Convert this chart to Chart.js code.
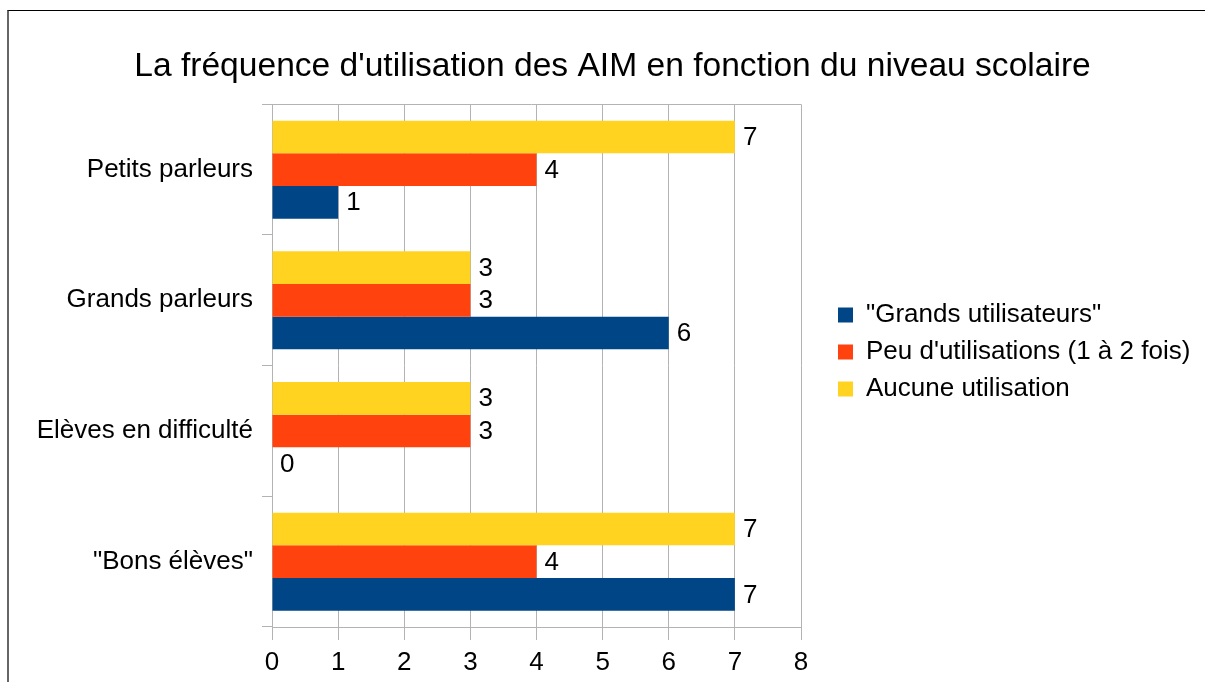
<!DOCTYPE html>
<html lang="fr">
<head>
<meta charset="utf-8">
<title>Fréquence d'utilisation des AIM</title>
<script src="https://cdn.jsdelivr.net/npm/chart.js@4.4.1/dist/chart.umd.min.js"></script>
<style>
  html, body { margin: 0; padding: 0; background: #fff; }
  #wrap { position: relative; width: 1205px; height: 682px; overflow: hidden; }
  /* outer frame of the chart object, only its left and top edges show */
  #frame { position: absolute; left: 7px; top: 10px; width: 1400px; height: 900px;
           border-left: 2px solid #666; border-top: 1px solid #000; }
  #chart { position: absolute; left: 0; top: 0; }
</style>
</head>
<body>
<div id="wrap">
  <div id="frame"></div>
  <canvas id="chart" width="1205" height="682"></canvas>
</div>
<script>
// --- data ---
const categories = ['Petits parleurs', 'Grands parleurs', 'Elèves en difficulté', '"Bons élèves"'];
const seriesNames = ['"Grands utilisateurs"', "Peu d'utilisations (1 à 2 fois)", 'Aucune utilisation'];
const grandsUtilisateurs = [1, 6, 0, 7];
const peuUtilisations = [4, 3, 3, 4];
const aucuneUtilisation = [7, 3, 3, 7];
const xTicks = [0, 1, 2, 3, 4, 5, 6, 7, 8];

const titleText = "La fréquence d'utilisation des AIM en fonction du niveau scolaire";

// --- look ---
const FONT = "'Liberation Sans', Arial, sans-serif";
const BLUE = '#004586';
const ORANGE = '#ff420e';
const YELLOW = '#ffd320';
const GRID = '#b3b3b3';
const LABEL_SIZE = 26;

// plot box edges (px)
const PLOT_LEFT = 272;
const PLOT_RIGHT = 801;
const PLOT_BOTTOM = 627;
const LEGEND_GAP = 37;    // plot right edge -> first legend square
const LEGEND_LIFT = -11;  // negative = legend sits lower than the plot centre

// value labels just right of each bar end
const valueLabels = {
    id: 'valueLabels',
    afterDatasetsDraw(chart) {
        const ctx = chart.ctx;
        ctx.save();
        ctx.font = LABEL_SIZE + 'px ' + FONT;
        ctx.fillStyle = '#000';
        ctx.textAlign = 'left';
        ctx.textBaseline = 'middle';
        chart.data.datasets.forEach((ds, i) => {
            const meta = chart.getDatasetMeta(i);
            meta.data.forEach((bar, j) => {
                ctx.fillText(String(ds.data[j]), bar.x + 8, bar.y + 1);
            });
        });
        ctx.restore();
    }
};

// thin line along the top of the plot area
const plotTop = {
    id: 'plotTop',
    afterDraw(chart) {
        const { ctx, chartArea } = chart;
        ctx.save();
        ctx.strokeStyle = GRID;
        ctx.lineWidth = 1;
        ctx.beginPath();
        ctx.moveTo(chartArea.left - 10, Math.round(chartArea.top) + 0.5);
        ctx.lineTo(chartArea.right, Math.round(chartArea.top) + 0.5);
        ctx.stroke();
        ctx.restore();
    }
};

// keep the legend box wide enough that the plot ends at PLOT_RIGHT, then nudge items
const legendPlacement = {
    id: 'legendPlacement',
    beforeLayout(chart) {
        const lg = chart.legend;
        if (!lg || lg._patched) return;
        const fit = lg.fit.bind(lg);
        lg.fit = function () {
            fit();
            this.width = chart.width - PLOT_RIGHT;
        };
        lg._patched = true;
    },
    afterLayout(chart) {
        const lg = chart.legend;
        if (!lg) return;
        const pad = lg.options.labels.padding;
        const dx = chart.chartArea.right + LEGEND_GAP - (lg.left + pad);
        lg.left += dx;
        lg.right += dx;
        lg.top -= LEGEND_LIFT;
        lg.bottom -= LEGEND_LIFT;
    }
};

Chart.defaults.font.family = FONT;
Chart.defaults.color = '#000';

const ctx = document.getElementById('chart').getContext('2d');
new Chart(ctx, {
    type: 'bar',
    data: {
        labels: categories,
        // LibreOffice puts the first series at the bottom of each group,
        // so the datasets go top-to-bottom and the legend is reversed
        datasets: [
            { label: seriesNames[2], data: aucuneUtilisation, backgroundColor: YELLOW },
            { label: seriesNames[1], data: peuUtilisations, backgroundColor: ORANGE },
            { label: seriesNames[0], data: grandsUtilisateurs, backgroundColor: BLUE }
        ]
    },
    options: {
        indexAxis: 'y',
        responsive: false,
        animation: false,
        categoryPercentage: 0.75,
        barPercentage: 1.0,
        layout: { padding: { left: 20, right: 0, top: 0, bottom: 0 } },
        scales: {
            x: {
                min: 0,
                max: 8,
                afterBuildTicks: s => { s.ticks = xTicks.map(v => ({ value: v })); },
                grid: { color: GRID, tickLength: 13, lineWidth: 1 },
                border: { color: GRID },
                ticks: { font: { size: LABEL_SIZE }, color: '#000', padding: 7 },
                afterFit: s => { s.height = ctx.canvas.height - PLOT_BOTTOM; }
            },
            y: {
                grid: { offset: true, drawOnChartArea: false, color: GRID, tickLength: 10 },
                border: { color: GRID },
                ticks: { font: { size: LABEL_SIZE }, color: '#000', padding: 9 },
                afterFit: s => { s.width = PLOT_LEFT - 20; }
            }
        },
        plugins: {
            title: {
                display: true,
                text: titleText,
                font: { size: 33.6, weight: 'normal' },
                color: '#000',
                padding: { top: 47, bottom: 17 }
            },
            legend: {
                position: 'right',
                align: 'center',
                reverse: true,
                labels: {
                    boxWidth: 15,
                    boxHeight: 15,
                    padding: 11,
                    color: '#000',
                    font: { size: LABEL_SIZE }
                }
            },
            tooltip: { enabled: false }
        }
    },
    plugins: [valueLabels, plotTop, legendPlacement]
});
</script>
</body>
</html>
